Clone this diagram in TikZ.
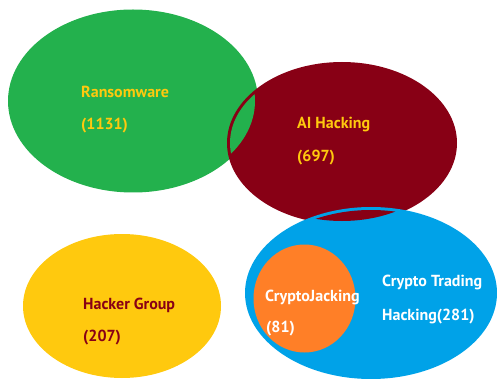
\documentclass[tikz,border=0pt]{standalone}
\usepackage{fontspec}
\setmainfont{PT Sans}
\definecolor{cgreen}{RGB}{35,177,77}
\definecolor{cdred}{RGB}{136,0,21}
\definecolor{cblue}{RGB}{0,162,232}
\definecolor{cyellow}{RGB}{255,201,14}
\definecolor{corange}{RGB}{255,127,39}
\tikzset{
  lbl/.style={anchor=west,inner sep=0pt,font=\fontsize{16}{18}\selectfont\bfseries},
}
\begin{document}
\begin{tikzpicture}[x=1pt,y=-1pt]
\useasboundingbox (0,0) rectangle (497,379);
% green
\fill[cgreen] (133,101) ellipse [x radius=125pt, y radius=91.5pt];
% dark red
\fill[cdred] (342,143) ellipse [x radius=115pt, y radius=81pt];
\begin{scope}
  \clip (342,143) ellipse [x radius=112pt, y radius=78pt];
  \fill[cgreen] (133,101) ellipse [x radius=122pt, y radius=88.5pt];
\end{scope}
% blue
\fill[cblue] (371,293) ellipse [x radius=126pt, y radius=86pt];
\begin{scope}
  \clip (371,293) ellipse [x radius=123pt, y radius=83pt];
  \fill[cdred] (342,143) ellipse [x radius=112pt, y radius=78pt];
\end{scope}
% orange
\fill[corange] (304.5,298.5) ellipse [x radius=51pt, y radius=54pt];
% yellow
\fill[cyellow] (122,306) ellipse [x radius=99pt, y radius=72pt];
% labels
\node[lbl,text=cyellow] (ran) at (81,92) {Ransomware};
\node[lbl,text=cyellow] (ranN) at (81,126) {(1131)};
\node[lbl,text=cyellow] (ai) at (297,125) {AI Hacking};
\node[lbl,text=cyellow] (aiN) at (297,158) {(697)};
\node[lbl,text=cdred] (hg) at (83,305) {Hacker Group};
\node[lbl,text=cdred] (hgN) at (83,338) {(207)};
\node[lbl,text=white] (cj) at (265,297) {CryptoJacking};
\node[lbl,text=white] (cjN) at (266,329) {(81)};
\node[lbl,text=white] (ct) at (382,282) {Crypto Trading};
\node[lbl,text=white] (ctN) at (382,317) {Hacking(281)};
\end{tikzpicture}
\end{document}
